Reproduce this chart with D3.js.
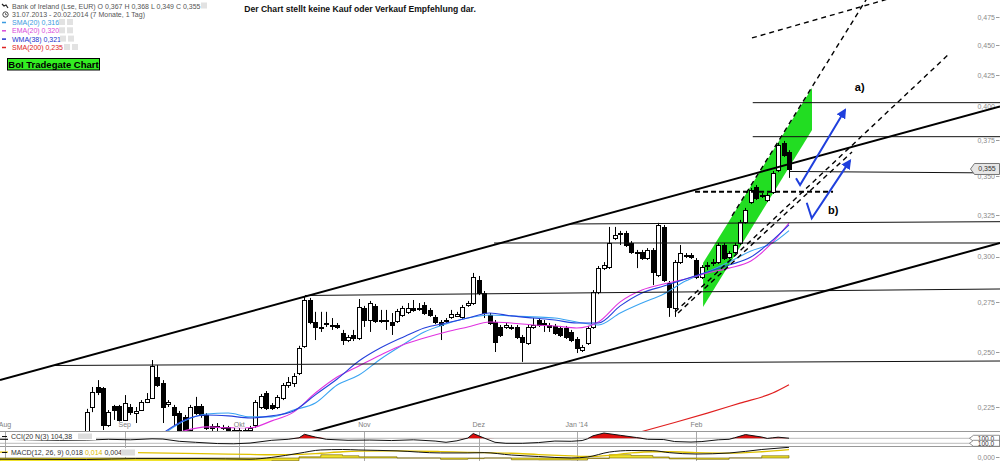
<!DOCTYPE html>
<html><head><meta charset="utf-8">
<script src="https://cdn.jsdelivr.net/npm/d3@7"></script>
<style>body{margin:0;background:#fff}svg{display:block;font-family:"Liberation Sans",Arial,sans-serif}</style>
</head><body><svg id="c" width="1000" height="461"></svg>
<script>
// ---------- DATA ----------
const open =[0.2130,0.2250,0.2338,0.2334,0.2174,0.2254,0.2254,0.2195,0.2250,0.2224,0.2237,0.2272,0.2289,0.2383,0.2356,0.2263,0.2250,0.2224,0.2208,0.2153,0.2254,0.2254,0.2216,0.2170,0.2166,0.2162,0.2166,0.2155,0.2151,0.2153,0.2153,0.2174,0.2250,0.2311,0.2259,0.2250,0.2289,0.2347,0.2356,0.2401,0.2530,0.2762,0.2648,0.2625,0.2641,0.2633,0.2633,0.2593,0.2558,0.2583,0.2568,0.2720,0.2658,0.2731,0.2658,0.2653,0.2648,0.2653,0.2684,0.2700,0.2720,0.2718,0.2736,0.2710,0.2674,0.2648,0.2653,0.2674,0.2679,0.2674,0.2736,0.2746,0.2870,0.2799,0.2684,0.2648,0.2623,0.2623,0.2621,0.2623,0.2573,0.2543,0.2623,0.2658,0.2641,0.2633,0.2628,0.2618,0.2618,0.2598,0.2563,0.2510,0.2543,0.2623,0.2804,0.2936,0.2942,0.3110,0.3138,0.3141,0.3081,0.3026,0.3028,0.2993,0.3040,0.2897,0.3177,0.2853,0.2720,0.2970,0.3010,0.3011,0.2982,0.2886,0.2951,0.2969,0.2970,0.3069,0.2999,0.3028,0.3081,0.3208,0.3332,0.3430,0.3376,0.3345,0.3397,0.3543,0.3732,0.3670];
const high =[0.2242,0.2338,0.2369,0.2338,0.2237,0.2259,0.2259,0.2302,0.2263,0.2250,0.2280,0.2311,0.2462,0.2438,0.2369,0.2280,0.2259,0.2233,0.2216,0.2259,0.2294,0.2263,0.2224,0.2178,0.2182,0.2174,0.2170,0.2162,0.2162,0.2160,0.2170,0.2280,0.2307,0.2320,0.2267,0.2302,0.2356,0.2383,0.2401,0.2530,0.2783,0.2773,0.2700,0.2700,0.2700,0.2668,0.2643,0.2608,0.2583,0.2608,0.2767,0.2731,0.2757,0.2741,0.2710,0.2710,0.2694,0.2715,0.2731,0.2746,0.2762,0.2746,0.2751,0.2720,0.2684,0.2658,0.2668,0.2710,0.2700,0.2736,0.2757,0.2909,0.2892,0.2810,0.2694,0.2658,0.2633,0.2643,0.2633,0.2633,0.2583,0.2633,0.2668,0.2668,0.2658,0.2643,0.2638,0.2628,0.2628,0.2608,0.2573,0.2534,0.2628,0.2815,0.2948,0.2970,0.3177,0.3177,0.3153,0.3153,0.3092,0.3040,0.3040,0.3051,0.3051,0.3202,0.3189,0.2864,0.2982,0.3069,0.3022,0.3022,0.2993,0.2953,0.2970,0.2988,0.3081,0.3081,0.3034,0.3081,0.3220,0.3295,0.3423,0.3443,0.3390,0.3390,0.3536,0.3732,0.3746,0.3680];
const low  =[0.2125,0.2228,0.2302,0.2153,0.2166,0.2195,0.2187,0.2191,0.2216,0.2182,0.2233,0.2267,0.2285,0.2338,0.2182,0.2250,0.2174,0.2140,0.2128,0.2145,0.2216,0.2204,0.2153,0.2149,0.2145,0.2153,0.2145,0.2140,0.2140,0.2140,0.2145,0.2162,0.2241,0.2237,0.2237,0.2241,0.2280,0.2334,0.2338,0.2392,0.2520,0.2637,0.2558,0.2598,0.2623,0.2608,0.2613,0.2534,0.2548,0.2553,0.2558,0.2623,0.2598,0.2643,0.2643,0.2608,0.2583,0.2643,0.2674,0.2689,0.2700,0.2705,0.2684,0.2674,0.2637,0.2558,0.2643,0.2664,0.2674,0.2664,0.2726,0.2736,0.2788,0.2668,0.2633,0.2500,0.2573,0.2613,0.2608,0.2563,0.2453,0.2534,0.2613,0.2623,0.2598,0.2598,0.2583,0.2573,0.2563,0.2548,0.2495,0.2500,0.2534,0.2613,0.2793,0.2925,0.2931,0.3098,0.3069,0.3057,0.3017,0.2936,0.2982,0.2982,0.2842,0.2886,0.2859,0.2674,0.2674,0.2959,0.2993,0.2988,0.2875,0.2875,0.2925,0.2948,0.2959,0.2982,0.2988,0.3017,0.3069,0.3196,0.3320,0.3345,0.3358,0.3332,0.3384,0.3529,0.3633,0.3490];
const close=[0.2228,0.2316,0.2316,0.2174,0.2228,0.2237,0.2195,0.2267,0.2228,0.2233,0.2272,0.2285,0.2434,0.2347,0.2250,0.2272,0.2216,0.2153,0.2140,0.2250,0.2224,0.2216,0.2162,0.2162,0.2168,0.2166,0.2149,0.2151,0.2155,0.2149,0.2162,0.2272,0.2298,0.2246,0.2246,0.2294,0.2347,0.2360,0.2387,0.2520,0.2762,0.2648,0.2623,0.2621,0.2645,0.2631,0.2623,0.2558,0.2573,0.2568,0.2726,0.2658,0.2746,0.2653,0.2653,0.2658,0.2633,0.2705,0.2720,0.2720,0.2710,0.2720,0.2694,0.2684,0.2648,0.2633,0.2658,0.2689,0.2689,0.2726,0.2746,0.2886,0.2799,0.2694,0.2643,0.2548,0.2583,0.2633,0.2625,0.2573,0.2548,0.2623,0.2633,0.2633,0.2645,0.2623,0.2593,0.2583,0.2573,0.2558,0.2520,0.2525,0.2618,0.2804,0.2936,0.2953,0.3081,0.3128,0.3141,0.3069,0.3028,0.3030,0.2993,0.3040,0.2914,0.3189,0.2870,0.2726,0.2970,0.3022,0.3012,0.2999,0.2886,0.2942,0.2955,0.2972,0.3069,0.2993,0.3022,0.3069,0.3208,0.3282,0.3410,0.3358,0.3379,0.3377,0.3523,0.3718,0.3647,0.3550];

const monthTicks =[-15,7,28,51,72,90,112];
const monthLabels=["Aug","Sep","Okt","Nov","Dez","Jan '14","Feb"];
const priceTicks =[0.225,0.25,0.275,0.3,0.325,0.35,0.375,0.4,0.425,0.45,0.475];

const maIndex=[14,18,22,26,30,34,38,42,46,50,54,58,62,66,70,74,78,82,86,90,94,98,102,106,110,114,118,122,126,129];
const sma20 =[0.2135,0.2191,0.2220,0.2224,0.2208,0.2208,0.2237,0.2267,0.2347,0.2392,0.2467,0.2534,0.2598,0.2638,0.2668,0.2684,0.2679,0.2674,0.2668,0.2648,0.2633,0.2694,0.2746,0.2794,0.2864,0.2914,0.2970,0.3034,0.3081,0.3155];
const ema20 =[0.2120,0.2150,0.2166,0.2162,0.2162,0.2191,0.2228,0.2311,0.2383,0.2434,0.2486,0.2534,0.2568,0.2598,0.2623,0.2648,0.2643,0.2633,0.2628,0.2618,0.2648,0.2752,0.2815,0.2848,0.2875,0.2909,0.2936,0.2976,0.3086,0.3200];
const wma38 =[0.2140,0.2195,0.2216,0.2212,0.2203,0.2212,0.2233,0.2303,0.2374,0.2457,0.2520,0.2571,0.2618,0.2643,0.2668,0.2694,0.2679,0.2668,0.2658,0.2643,0.2643,0.2731,0.2799,0.2837,0.2875,0.2914,0.2953,0.2999,0.3098,0.3190];
const sma200Index=[102,108,114,120,126,129];
const sma200=[0.2147,0.2184,0.2224,0.2267,0.2311,0.2348];

const cciIndex=[-16,-10,-5,0,4,8,12,14,17,20,24,27,30,34,37,39,40,42,44,48,52,56,60,64,66,68,70,71,73,75,77,80,83,86,89,91,92,93,95,98,101,103,106,108,111,113,116,118,119,121,124,125,126,127,129];
const cci=[60,40,20,30,60,40,80,70,-20,-60,-110,-120,-90,20,60,120,260,150,60,20,30,10,40,-10,-60,0,110,290,110,-60,-100,-100,-70,-10,-20,10,80,200,310,220,130,60,50,-30,-50,-30,40,60,120,250,150,95,120,145,104.4];

const macdIndex=[-16,0,9,21,30,34,39,43,47,50,57,65,70,73,78,83,89,92,96,100,104,107,112,118,124,129];
const macd  =[-0.002,-0.0025,-0.001,-0.001,-0.002,0.001,0.008,0.0135,0.0143,0.0135,0.012,0.0085,0.0085,0.009,0.005,0.0025,0.0,0.0017,0.010,0.0126,0.0123,0.009,0.0067,0.0084,0.0143,0.018];
const signal=[0.010,0.0095,0.009,0.0075,0.006,0.0055,0.006,0.008,0.0105,0.0115,0.012,0.0108,0.0095,0.009,0.008,0.0058,0.0035,0.0025,0.0045,0.0085,0.0105,0.0105,0.009,0.0082,0.0105,0.014];
const hist  =[-0.012,-0.012,-0.010,-0.0085,-0.008,-0.0045,0.002,0.0055,0.0038,0.002,0.0,-0.0023,-0.001,0.0,-0.003,-0.0033,-0.0035,-0.0008,0.0055,0.0041,0.0018,-0.0015,-0.0023,0.0002,0.0038,0.004];

// drawing-tool annotations (candle index, price)
const thickLines=[[-15.93,0.23695,167.76,0.4002],[39.24,0.21321,167.76,0.30807]];
const levelLines=[[-6.19,0.24362,167.76,0.24573],[40.1,0.27859,167.76,0.28208],[74.82,0.30807,167.76,0.30807],[88.78,0.31950,167.76,0.32091],[129.18,0.35331,167.76,0.35229],[122.34,0.37767,167.76,0.37767],[122.34,0.40310,167.76,0.40310]];
const dashedLines=[[122.2,0.45631,147.57,0.49219],[118.53,0.32443,143.48,0.4936],[108.07,0.26992,158.2,0.44169],[108.62,0.26941,140.58,0.36676]];
const dashedLevel=[[111.74,0.33989,137.09,0.33989]];
const greenChannel=[[113.21,0.29649],[133.23,0.41461],[133.23,0.38255],[113.21,0.27252]];
const arrowA=[[130.29,0.34873],[131.03,0.34428],[139.29,0.39749]];
const arrowB=[[132.26,0.33280],[133.18,0.32300],[140.21,0.36070]];
const noteLabels=[["a)",141.1,0.4154],["b)",136.17,0.32818]];

const legendRows=[
 {t:"Bank of Ireland (Lse, EUR) O 0,367 H 0,368 L 0,349 C 0,355",c:"#555"},
 {t:"31.07.2013 - 20.02.2014 (7 Monate, 1 Tag)",c:"#555"},
 {t:"SMA(20) 0,316",c:"#3a9be0"},
 {t:"EMA(20) 0,320",c:"#d94ad9"},
 {t:"WMA(38) 0,321",c:"#2233cc"},
 {t:"SMA(200) 0,235",c:"#dd2222"}];

// ---------- SCALES ----------
const svg=d3.select("#c");
const x=d3.scaleLinear().domain([0,129]).range([86.7,789]);
const y=d3.scaleLog().domain([0.225,0.475]).range([407,17]);
const cy=d3.scaleLinear().domain([-100,100]).range([443.3,438.3]);
const my=d3.scaleLinear().domain([0,0.018]).range([458,447.3]);
const fmt=v=>d3.format(".3f")(v).replace(".",",");

const defs=svg.append("defs");
defs.append("clipPath").attr("id","cm").append("rect").attr("x",0).attr("y",0).attr("width",1000).attr("height",431);
defs.append("clipPath").attr("id","cc").append("rect").attr("x",0).attr("y",432).attr("width",970).attr("height",14.3);
defs.append("clipPath").attr("id","cmd").append("rect").attr("x",0).attr("y",447).attr("width",970).attr("height",14);
defs.append("marker").attr("id","ah").attr("viewBox","0 0 10 10").attr("refX",8).attr("refY",5)
  .attr("markerWidth",5).attr("markerHeight",5).attr("orient","auto")
  .append("path").attr("d","M0,0L10,5L0,10z").attr("fill","#1f3fdd");

// ---------- RIGHT PRICE AXIS ----------
const ax=svg.append("g");
priceTicks.forEach(t=>{
  ax.append("text").attr("x",995).attr("y",y(t)+2.5).attr("text-anchor","end")
    .attr("font-size",7).attr("fill","#8a8a8a").text(fmt(t));
  ax.append("line").attr("x1",996).attr("x2",999.5).attr("y1",Math.round(y(t))+0.5).attr("y2",Math.round(y(t))+0.5).attr("stroke","#999");
});

// ---------- MAIN PANEL ----------
const g=svg.append("g").attr("clip-path","url(#cm)");
g.append("polygon").attr("points",greenChannel.map(d=>x(d[0])+","+y(d[1])).join(" ")).attr("fill","#22dd22");

// candles
const cg=g.append("g");
d3.range(open.length).forEach(i=>{
  const cx=Math.round(x(i))+0.5;
  cg.append("line").attr("x1",cx).attr("x2",cx).attr("y1",y(high[i])).attr("y2",y(low[i])).attr("stroke","#000");
  const up=close[i]>=open[i];
  const yt=y(Math.max(open[i],close[i])), yb=y(Math.min(open[i],close[i]));
  cg.append("rect").attr("x",cx-2).attr("y",Math.round(yt)+0.5).attr("width",4)
    .attr("height",Math.max(Math.round(yb-yt),1)).attr("fill",up?"#fff":"#000").attr("stroke","#000");
});

// moving averages
const maLine=(idx)=>d3.line().defined(d=>d!=null).x((d,k)=>x(idx[k])).y(d=>y(d)).curve(d3.curveMonotoneX);
[[sma20,"#3aa4f2",1.1],[ema20,"#e032e0",1.1],[wma38,"#2541dc",1.1]].forEach(([s,c,w])=>{
  g.append("path").attr("d",maLine(maIndex)(s)).attr("fill","none").attr("stroke",c).attr("stroke-width",w);
});
g.append("path").attr("d",maLine(sma200Index)(sma200)).attr("fill","none").attr("stroke","#e02020").attr("stroke-width",1.2);

// annotation lines
const seg=(arr,stroke,w,dash)=>arr.forEach(d=>{
  g.append("line").attr("x1",x(d[0])).attr("y1",y(d[1])).attr("x2",x(d[2])).attr("y2",y(d[3]))
   .attr("stroke",stroke).attr("stroke-width",w).attr("stroke-dasharray",dash||null);
});
seg(levelLines,"#111",1);
seg(thickLines,"#000",2);
seg(dashedLines,"#000",1.4,"5,4");
seg(dashedLevel,"#000",2,"5,3");

[arrowA,arrowB].forEach(a=>{
  g.append("path").attr("d",d3.line().x(d=>x(d[0])).y(d=>y(d[1]))(a)).attr("fill","none")
   .attr("stroke","#1f3fdd").attr("stroke-width",2).attr("marker-end","url(#ah)");
});
noteLabels.forEach(d=>{
  g.append("text").attr("x",x(d[1])).attr("y",y(d[2])+4).attr("font-size",11).attr("font-weight","bold").text(d[0]);
});

// month labels (on top of candles)
monthTicks.forEach((m,k)=>{
  svg.append("text").attr("x",x(m)).attr("y",426.5).attr("text-anchor","middle")
    .attr("font-size",7).attr("fill","#808080").attr("stroke","#fff").attr("stroke-width",1.6)
    .attr("paint-order","stroke").text(monthLabels[k]);
});

// price tag
const ty=y(close[close.length-1]);
svg.append("path").attr("d",`M970.5,${ty}L974.5,${ty-5.5}L999.5,${ty-5.5}L999.5,${ty+5.5}L974.5,${ty+5.5}Z`)
  .attr("fill","#e6e6e6").attr("stroke","#777");
svg.append("text").attr("x",987).attr("y",ty+2.5).attr("text-anchor","middle").attr("font-size",7).attr("fill","#333").text(fmt(close[close.length-1]));

// ---------- LOWER PANELS ----------
svg.append("line").attr("x1",0).attr("x2",1000).attr("y1",431.5).attr("y2",431.5).attr("stroke","#999");
svg.append("line").attr("x1",0).attr("x2",1000).attr("y1",446.5).attr("y2",446.5).attr("stroke","#999");
monthTicks.forEach(m=>{
  const mx=Math.round(x(m))+0.5;
  svg.append("line").attr("x1",mx).attr("x2",mx).attr("y1",432).attr("y2",461).attr("stroke","#aaa");
});
[100,-100].forEach(v=>svg.append("line").attr("x1",0).attr("x2",972).attr("y1",cy(v)).attr("y2",cy(v)).attr("stroke","#aaa").attr("stroke-width",0.8));

const cG=svg.append("g").attr("clip-path","url(#cc)");
cG.append("path").attr("d",d3.area().x((d,k)=>x(cciIndex[k])).y0(cy(100)).y1(d=>cy(Math.max(d,100)))(cci)).attr("fill","#dd0f0f");
cG.append("path").attr("d",d3.line().x((d,k)=>x(cciIndex[k])).y(d=>cy(d))(cci)).attr("fill","none").attr("stroke","#111").attr("stroke-width",1);

const mG=svg.append("g").attr("clip-path","url(#cmd)");
mG.append("path").attr("d",d3.area().x((d,k)=>x(macdIndex[k])).y0(my(0)).y1(d=>my(d)).curve(d3.curveStepAfter)(hist))
  .attr("fill","#f0e22a").attr("stroke","#6b5a00").attr("stroke-width",0.6);
mG.append("path").attr("d",d3.line().x((d,k)=>x(macdIndex[k])).y(d=>my(d)).curve(d3.curveMonotoneX)(signal)).attr("fill","none").attr("stroke","#e0c200").attr("stroke-width",1.3);
mG.append("path").attr("d",d3.line().x((d,k)=>x(macdIndex[k])).y(d=>my(d)).curve(d3.curveMonotoneX)(macd)).attr("fill","none").attr("stroke","#111").attr("stroke-width",1);

// lower panel labels
[438.3,443.3].forEach(ly=>{
  svg.append("path").attr("d",`M969.5,${ly}L973.5,${ly-3}L999.5,${ly-3}L999.5,${ly+3}L973.5,${ly+3}Z`).attr("fill","#fff").attr("stroke","#666").attr("stroke-width",0.7);
  svg.append("text").attr("x",986).attr("y",ly+2.3).attr("text-anchor","middle").attr("font-size",6.5).attr("fill","#333").text("100,0");
});
svg.append("text").attr("x",995).attr("y",459.5).attr("text-anchor","end").attr("font-size",7).attr("fill","#8a8a8a").text(fmt(0));
svg.append("line").attr("x1",996).attr("x2",999.5).attr("y1",457.5).attr("y2",457.5).attr("stroke","#999");

svg.append("rect").attr("x",8).attr("y",432.5).attr("width",88).attr("height",7.5).attr("fill","#fff");
svg.append("line").attr("x1",2).attr("x2",7).attr("y1",436.5).attr("y2",436.5).attr("stroke","#111");
svg.append("text").attr("x",11).attr("y",439).attr("font-size",7).attr("fill","#333").text("CCI(20 N(3) 104,38");
svg.append("rect").attr("x",78).attr("y",433.5).attr("width",14).attr("height",5.5).attr("fill","#ddd");

svg.append("rect").attr("x",8).attr("y",448).attr("width",130).attr("height",9).attr("fill","#fff");
svg.append("line").attr("x1",2).attr("x2",7).attr("y1",452.5).attr("y2",452.5).attr("stroke","#111");
const mt=svg.append("text").attr("x",11).attr("y",455).attr("font-size",7).attr("fill","#333");
mt.append("tspan").text("MACD(12, 26, 9) 0,018 ");
mt.append("tspan").attr("fill","#d9b800").text("0,014 ");
mt.append("tspan").text("0,004");
svg.append("rect").attr("x",121).attr("y",449.5).attr("width",14).attr("height",6).attr("fill","#ddd");

// ---------- TOP TEXTS ----------
svg.append("text").attr("x",360).attr("y",11.5).attr("text-anchor","middle").attr("font-size",8.6).attr("font-weight","bold").attr("fill","#111")
  .text("Der Chart stellt keine Kauf oder Verkauf Empfehlung dar.");

const legY=[8.5,17,25,33.3,41.6,50];
legendRows.forEach((r,k)=>{
  svg.append("text").attr("x",12).attr("y",legY[k]).attr("font-size",7).attr("fill",r.c).text(r.t);
});
// legend markers/icons
svg.append("path").attr("d","M2,4L4,6L6,5L8,8").attr("fill","none").attr("stroke","#222").attr("stroke-width",1.2);
svg.append("circle").attr("cx",5.5).attr("cy",14.5).attr("r",2.7).attr("fill","none").attr("stroke","#333").attr("stroke-width",0.9);
svg.append("path").attr("d","M5.5,13V14.7H7").attr("fill","none").attr("stroke","#333").attr("stroke-width",0.7);
["#3a9be0","#d94ad9","#2233cc","#dd2222"].forEach((c,k)=>{
  svg.append("line").attr("x1",2).attr("x2",6).attr("y1",legY[k+2]-2.5).attr("y2",legY[k+2]-2.5).attr("stroke",c).attr("stroke-width",1.5);
  const bx=[59,59,60,64][k];
  svg.append("rect").attr("x",bx).attr("y",legY[k+2]-6).attr("width",6).attr("height",6).attr("fill","#e2e2e2");
  svg.append("rect").attr("x",bx+8).attr("y",legY[k+2]-6).attr("width",6).attr("height",6).attr("fill","#e2e2e2");
});
svg.append("rect").attr("x",201).attr("y",2.5).attr("width",6).attr("height",6).attr("fill","#e2e2e2");

svg.append("rect").attr("x",7.5).attr("y",58.5).attr("width",92).attr("height",11.5).attr("fill","#33ee22").attr("stroke","#000");
svg.append("text").attr("x",53.5).attr("y",67.5).attr("text-anchor","middle").attr("font-size",9.5).attr("font-weight","bold").attr("fill","#000").text("BoI Tradegate Chart");
</script></body></html>
